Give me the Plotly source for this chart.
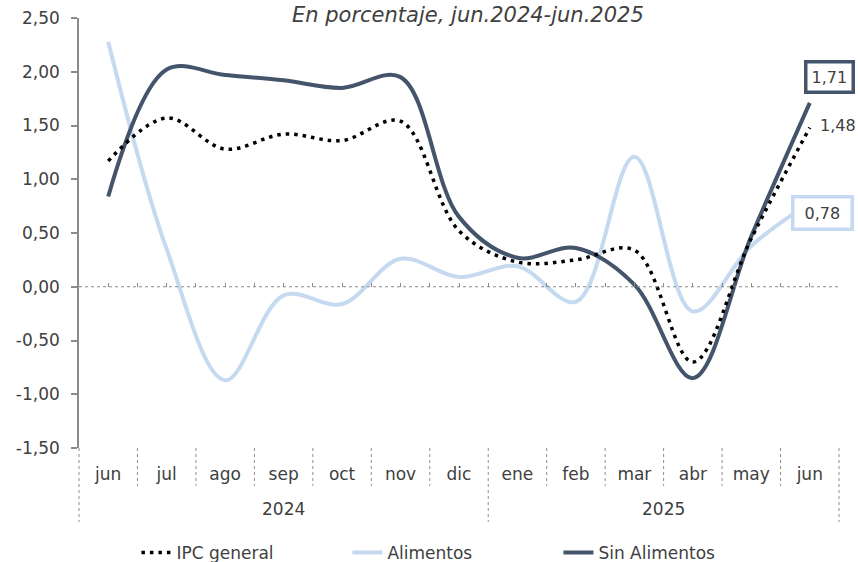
import plotly.graph_objects as go

months = ["jun", "jul", "ago", "sep", "oct", "nov", "dic", "ene", "feb", "mar", "abr", "may", "jun"]
years = ["2024", "2025"]
year_counts = [7, 6]
ipc_general = [1.17, 1.57, 1.28, 1.42, 1.36, 1.54, 0.52, 0.23, 0.25, 0.34, -0.70, 0.45, 1.48]
alimentos = [2.28, 0.35, -0.87, -0.08, -0.16, 0.26, 0.09, 0.19, -0.14, 1.21, -0.23, 0.38, 0.78]
sin_alimentos = [0.84, 2.02, 1.97, 1.92, 1.85, 1.95, 0.65, 0.27, 0.36, 0.02, -0.85, 0.47, 1.71]
y_ticks = [-1.5, -1.0, -0.5, 0.0, 0.5, 1.0, 1.5, 2.0, 2.5]
y_tick_labels = ["-1,50", "-1,00", "-0,50", "0,00", "0,50", "1,00", "1,50", "2,00", "2,50"]

FONT = "DejaVu Sans"
TXT = "#404040"
DARK = "#44546a"
LIGHT = "#c5d9f1"
GRAY = "#8c8c8c"

x = list(range(len(months)))
n = len(months)

fig = go.Figure()
fig.add_trace(go.Scatter(x=x, y=alimentos, name="Alimentos", mode="lines",
                         line=dict(color=LIGHT, width=4, shape="spline"), legendrank=2))
fig.add_trace(go.Scatter(x=x, y=sin_alimentos, name="Sin Alimentos", mode="lines",
                         line=dict(color=DARK, width=4, shape="spline"), legendrank=3))
fig.add_trace(go.Scatter(x=x, y=ipc_general, name="IPC general", mode="lines",
                         line=dict(color="#000000", width=3.5, shape="spline", dash="3.5px,5px"),
                         legendrank=1))
# helper trace for zero-line minor ticks axis
fig.add_trace(go.Scatter(x=[0], y=[0], xaxis="x2", mode="markers", marker=dict(opacity=0),
                         showlegend=False, hoverinfo="skip"))

yr0, yr1 = y_ticks[0], y_ticks[-1]
zero_pos = (0 - yr0) / (yr1 - yr0)

shapes = []
shapes.append(dict(type="line", xref="paper", yref="y", x0=0, x1=1, y0=0, y1=0,
                   line=dict(color=GRAY, width=1, dash="dot")))
year_bounds = [0]
for c in year_counts:
    year_bounds.append(year_bounds[-1] + c)
for b in range(n + 1):
    xp = b / n
    long = b in year_bounds
    shapes.append(dict(type="line", xref="paper", yref="paper", x0=xp, x1=xp,
                       y0=0, y1=-0.172 if long else -0.088,
                       line=dict(color=GRAY, width=1, dash="dot")))

annotations = []
for i, yv in enumerate(years):
    cx = (year_bounds[i] + year_bounds[i + 1]) / 2 / n
    annotations.append(dict(text=yv, xref="paper", yref="paper", x=cx, y=-0.142,
                            xanchor="center", yanchor="middle", showarrow=False,
                            font=dict(family=FONT, size=17, color=TXT)))
annotations.append(dict(text="<i>En porcentaje, jun.2024-jun.2025</i>", xref="paper", yref="paper",
                        x=0.512, y=1.0395, xanchor="center", yanchor="top", showarrow=False,
                        font=dict(family=FONT, size=21, color=TXT)))
fmt = lambda v: f"{v:.2f}".replace(".", ",")
annotations.append(dict(text=fmt(sin_alimentos[-1]), x=x[-1], y=sin_alimentos[-1], xref="x", yref="y",
                        showarrow=False, xshift=20, yshift=26, bgcolor="white",
                        bordercolor=DARK, borderwidth=3.5, borderpad=4,
                        font=dict(family=FONT, size=16, color=TXT)))
annotations.append(dict(text=fmt(ipc_general[-1]), x=x[-1], y=ipc_general[-1], xref="x", yref="y",
                        showarrow=False, xshift=28, yshift=2,
                        font=dict(family=FONT, size=16, color=TXT)))
annotations.append(dict(text=" " + fmt(alimentos[-1]) + " ", x=x[-1], y=alimentos[-1], xref="x", yref="y",
                        showarrow=False, xshift=13, yshift=-10, bgcolor="white",
                        bordercolor=LIGHT, borderwidth=3.5, borderpad=5,
                        font=dict(family=FONT, size=16, color=TXT)))

half_ticks = [i / 2 - 0.5 for i in range(2 * n + 1)]

fig.update_layout(
    width=858, height=562,
    margin=dict(l=79, r=19, t=18, b=114),
    paper_bgcolor="white", plot_bgcolor="white",
    font=dict(family=FONT, size=17, color=TXT),
    showlegend=True,
    legend=dict(orientation="h", xref="container", x=0.159, xanchor="left",
                yref="container", y=1 - 553 / 562, yanchor="middle",
                font=dict(family=FONT, size=17, color=TXT), entrywidth=166, traceorder="normal"),
    xaxis=dict(range=[-0.5, n - 0.5], tickmode="array", tickvals=x, ticktext=months,
               showgrid=False, zeroline=False, showline=False, automargin=False,
               ticks="outside", ticklen=11, tickcolor="rgba(0,0,0,0)",
               tickfont=dict(family=FONT, size=17, color=TXT)),
    xaxis2=dict(range=[-0.5, n - 0.5], overlaying="x", anchor="free", position=zero_pos,
                side="bottom", tickmode="array", tickvals=half_ticks, ticks="inside", ticklen=4,
                tickcolor=GRAY, tickwidth=1, showticklabels=False, showgrid=False,
                zeroline=False, showline=False, automargin=False),
    yaxis=dict(range=[yr0, yr1], tickmode="array", tickvals=y_ticks, ticktext=y_tick_labels,
               showgrid=False, zeroline=False, showline=True, linecolor=GRAY, linewidth=1.5,
               ticks="outside", ticklen=6, tickcolor=GRAY, tickwidth=1.5, automargin=False,
               ticklabelstandoff=8,
               tickfont=dict(family=FONT, size=17, color=TXT)),
    shapes=shapes,
    annotations=annotations,
)

fig.write_html("out.html", config={"displayModeBar": False},
               post_script="document.body.style.margin='0';")
